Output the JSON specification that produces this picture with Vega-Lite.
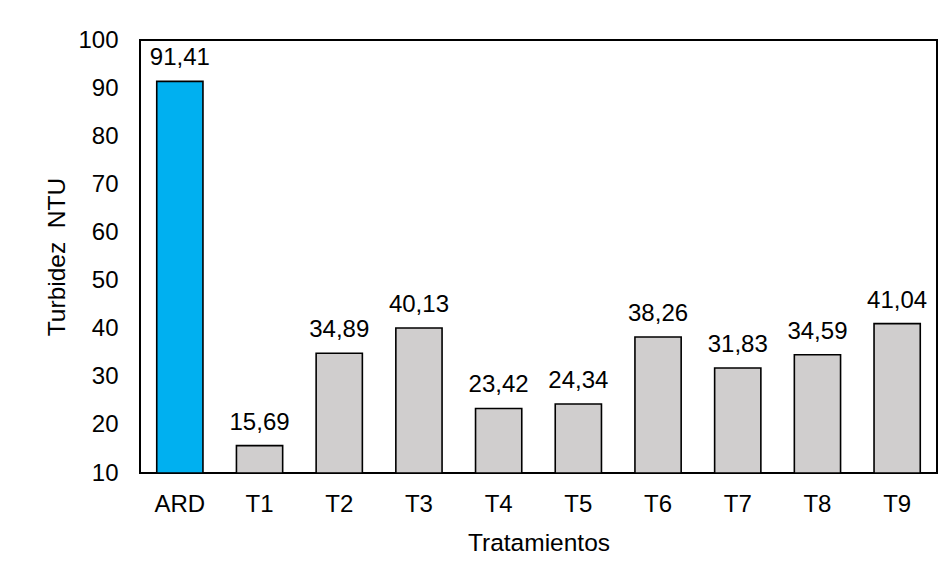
{
  "$schema": "https://vega.github.io/schema/vega-lite/v6.json",
  "width": 797,
  "height": 433,
  "autosize": {"type": "none"},
  "padding": {"left": 140, "top": 40, "right": 13, "bottom": 105},
  "background": "white",
  "config": {
    "locale": {"number": {"decimal": ",", "thousands": ".", "grouping": [3], "currency": ["", " €"]}},
    "view": {"stroke": "#000000", "strokeWidth": 2},
    "font": "Liberation Sans"
  },
  "data": {
    "values": [
      {"trat": "ARD", "ntu": 91.41, "grupo": "ARD"},
      {"trat": "T1", "ntu": 15.69, "grupo": "T"},
      {"trat": "T2", "ntu": 34.89, "grupo": "T"},
      {"trat": "T3", "ntu": 40.13, "grupo": "T"},
      {"trat": "T4", "ntu": 23.42, "grupo": "T"},
      {"trat": "T5", "ntu": 24.34, "grupo": "T"},
      {"trat": "T6", "ntu": 38.26, "grupo": "T"},
      {"trat": "T7", "ntu": 31.83, "grupo": "T"},
      {"trat": "T8", "ntu": 34.59, "grupo": "T"},
      {"trat": "T9", "ntu": 41.04, "grupo": "T"}
    ]
  },
  "encoding": {
    "x": {
      "field": "trat", "type": "nominal", "sort": null,
      "scale": {"paddingInner": 0.42, "paddingOuter": 0.21},
      "axis": {
        "title": "Tratamientos", "labelAngle": 0, "domain": false, "ticks": false, "tickSize": 0,
        "labelFontSize": 24, "labelColor": "#000000", "labelBaseline": "alphabetic", "labelPadding": 38.5,
        "titleFontSize": 24.5, "titleFontWeight": "normal", "titleColor": "#000000",
        "titleBaseline": "alphabetic", "titleY": 77
      }
    },
    "y": {
      "field": "ntu", "type": "quantitative",
      "scale": {"domain": [10, 100], "zero": false, "nice": false},
      "axis": {
        "title": "Turbidez\u00a0 NTU", "values": [10, 20, 30, 40, 50, 60, 70, 80, 90, 100],
        "grid": false, "domain": false, "ticks": false, "tickSize": 0,
        "labelFontSize": 24, "labelColor": "#000000", "labelPadding": 22,
        "titleFontSize": 24.5, "titleFontWeight": "normal", "titleColor": "#000000",
        "titleBaseline": "middle", "titleX": -83
      }
    }
  },
  "layer": [
    {
      "mark": {"type": "bar", "stroke": "#000000", "strokeWidth": 1.6},
      "encoding": {
        "y2": {"datum": 10},
        "color": {
          "field": "grupo", "type": "nominal",
          "scale": {"domain": ["ARD", "T"], "range": ["#00B0F0", "#D0CECE"]},
          "legend": null
        }
      }
    },
    {
      "mark": {"type": "text", "fontSize": 24, "color": "#000000", "baseline": "alphabetic", "dy": -16},
      "encoding": {
        "text": {"field": "ntu", "type": "quantitative", "format": ".2f"}
      }
    }
  ]
}
